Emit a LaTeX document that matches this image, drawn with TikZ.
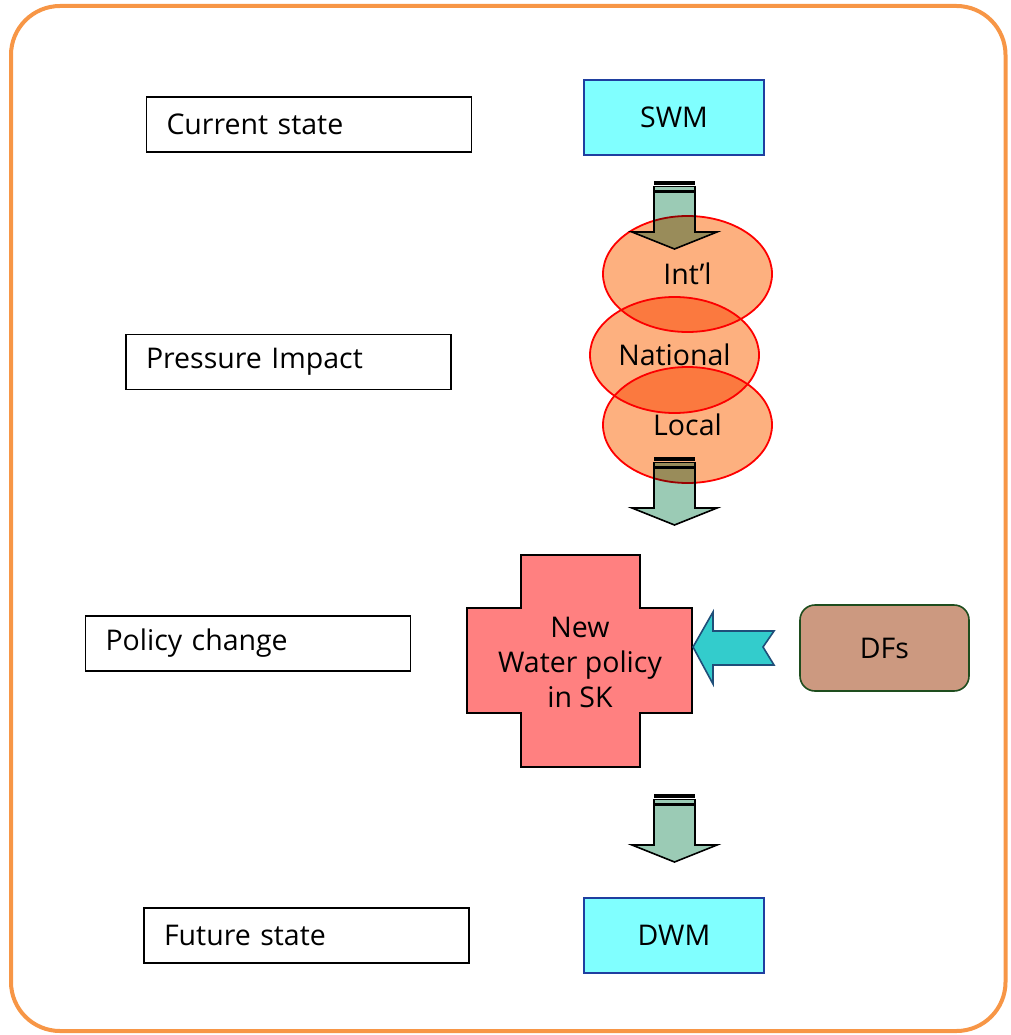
\documentclass[tikz,border=0pt]{standalone}
\usepackage{fontspec}
\setmainfont{Open Sans}
\usetikzlibrary{shapes.geometric,calc}
\definecolor{frameorange}{HTML}{F79646}
\definecolor{statecyan}{HTML}{80FFFF}
\definecolor{statenavy}{HTML}{1F3FA0}
\definecolor{arrowgreen}{HTML}{9BCBB5}
\definecolor{levelfill}{RGB}{253,176,127}
\definecolor{crossred}{HTML}{FF8080}
\definecolor{pushcyan}{HTML}{33CCCC}
\definecolor{pushedge}{HTML}{1F4E79}
\definecolor{dffill}{HTML}{CC9980}
\definecolor{dfedge}{HTML}{1E4D1E}
\tikzset{
  textsize/.style={font=\fontsize{28.5}{35}\selectfont},
  labelbox/.style={draw=black, line width=1.6, fill=white, minimum height=55,
    text width=285, inner xsep=20, align=left, textsize},
  statebox/.style={draw=statenavy, line width=2, fill=statecyan, minimum width=180,
    minimum height=75, textsize},
  level/.style={ellipse, draw=red, line width=1.8, fill=levelfill, blend mode=multiply,
    minimum width=169, minimum height=116, inner sep=0, textsize},
  arrowbody/.style={draw=black, line width=1.6, fill=arrowgreen, line join=miter},
  pics/stripedarrow/.style={code={
    \fill[black] (-20.5,0) rectangle (20.5,4);
    \draw[arrowbody] (-20.5,5.5) rectangle (20.5,9.5);
    \draw[arrowbody] (-20.5,11) -- (20.5,11) -- (20.5,51) -- (42.5,51) -- (0,68)
      -- (-42.5,51) -- (-20.5,51) -- cycle;
  }}
}
\begin{document}
\begin{tikzpicture}[x=1pt, y=-1pt]
\useasboundingbox (0,0) rectangle (1010,1035);
% outer frame
\draw[frameorange, line width=4, rounded corners=49] (11,6) rectangle (1005.5,1031);

% row labels
\node[labelbox] (current)  at (309,124.5) {Current state};
\node[labelbox] (pressure) at (288.5,362) {Pressure Impact};
\node[labelbox] (policy)   at (248,643.5) {Policy change};
\node[labelbox] (future)   at (306.5,935.5) {Future state};

% states
\node[statebox] (swm) at (674,117.5) {SWM};
\node[statebox] (dwm) at (674,935) {DWM};

% striped block arrows
\pic (arrowA) at (674.5,181) {stripedarrow};
\pic (arrowB) at (674.5,457) {stripedarrow};
\pic (arrowC) at (674.5,794) {stripedarrow};

% pressure levels, multiplied over what lies beneath
\node[level] (intl)     at (687.5,274) {Int’l};
\node[level] (national) at (674.5,355) {National};
\node[level] (local)    at (687.5,425) {Local};

% new policy cross
\draw[draw=black, line width=2, fill=crossred]
  (521,555) -- (640,555) -- (640,608) -- (692,608) -- (692,713) -- (640,713)
  -- (640,767) -- (521,767) -- (521,713) -- (467,713) -- (467,608) -- (521,608) -- cycle;
\node[align=center, font=\fontsize{28.5}{35}\selectfont, inner sep=0] (newpolicy)
  at (580,662) {New\\Water policy\\in SK};

% driving forces
\node[draw=dfedge, line width=1.6, fill=dffill, rounded corners=15, minimum width=169,
  minimum height=86, textsize] (dfs) at (884.5,648) {DFs};
\coordinate (pushtip) at (693,647);
\draw[draw=pushedge, line width=1.6, fill=pushcyan, line join=miter]
  (pushtip) -- (713,612) -- (713,631) -- (774,631) -- (763,647) -- (774,665)
  -- (713,665) -- (713,684) -- cycle;
\end{tikzpicture}
\end{document}
